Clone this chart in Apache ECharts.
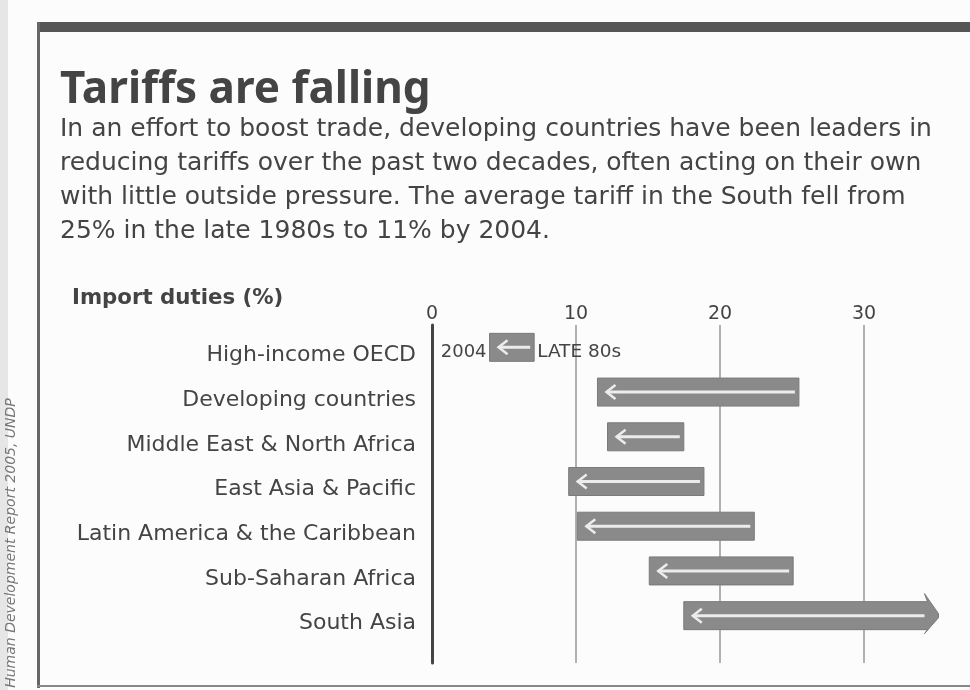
<!DOCTYPE html>
<html><head><meta charset="utf-8">
<script src="https://cdn.jsdelivr.net/npm/echarts@6/dist/echarts.min.js"></script>
<style>html,body{margin:0;padding:0;background:#fcfcfc}#c{width:970px;height:690px}</style>
</head><body><div id="c"></div>
<script>
const categories = ['High-income OECD','Developing countries','Middle East & North Africa','East Asia & Pacific','Latin America & the Caribbean','Sub-Saharan Africa','South Asia'];
const tariff2004 = [4.0, 11.5, 12.2, 9.5, 10.1, 15.1, 17.5];
const tariffLate80s = [7.1, 25.5, 17.5, 18.9, 22.4, 25.1, 35.2];
const offScale = [0, 0, 0, 0, 0, 0, 1];
const xTicks = [0, 10, 20, 30];
const startLabel = '2004';
const endLabel = 'LATE 80s';
const titleText = 'Tariffs are falling';
const subtitleLines = [
  'In an effort to boost trade, developing countries have been leaders in',
  'reducing tariffs over the past two decades, often acting on their own',
  'with little outside pressure. The average tariff in the South fell from',
  '25% in the late 1980s to 11% by 2004.'
];
const axisTitle = 'Import duties (%)';
const sourceText = 'Human Development Report 2005, UNDP';

const FONT = '"DejaVu Sans", "Noto Sans", sans-serif';
const data = categories.map((c, i) => [i, tariff2004[i], tariffLate80s[i], offScale[i]]);

const chart = echarts.init(document.getElementById('c'), null, {renderer: 'canvas'});

const graphics = [
  {type: 'rect', shape: {x: 0, y: 0, width: 8, height: 690}, style: {fill: '#e6e6e6'}, silent: true},
  {type: 'rect', shape: {x: 37, y: 22, width: 933, height: 10}, style: {fill: '#555'}, silent: true},
  {type: 'rect', shape: {x: 37, y: 22, width: 3, height: 666}, style: {fill: '#666'}, silent: true},
  {type: 'rect', shape: {x: 37, y: 685, width: 933, height: 2}, style: {fill: '#888'}, silent: true},
  {type: 'text', left: 60, top: 68, style: {text: titleText, font: 'bold 44px "Noto Sans", sans-serif', fill: '#444'}},
  {type: 'text', x: 72, y: 298, style: {text: axisTitle, font: 'bold 21.3px ' + FONT, fill: '#444', verticalAlign: 'middle'}},
  {type: 'text', x: 11, y: 543, rotation: Math.PI / 2, style: {text: sourceText, font: 'italic 14px ' + FONT, fill: '#777', align: 'center', verticalAlign: 'middle'}}
];
subtitleLines.forEach((t, k) => {
  graphics.push({type: 'text', x: 60, y: 129 + k * 34.3, style: {text: t, font: '25px ' + FONT, fill: '#444', verticalAlign: 'middle'}});
});

chart.setOption({
  backgroundColor: '#fcfcfc',
  animation: false,
  graphic: graphics,
  grid: [
    {left: 432, right: 20, top: 325, height: 313},
    {left: 432, right: 106, top: 325, bottom: 27}
  ],
  xAxis: [
    {gridIndex: 0, type: 'value', min: 0, max: 36, show: false, splitLine: {show: false}},
    {gridIndex: 1, type: 'value', min: 0, max: 30, interval: 10, position: 'top',
      axisLine: {show: false}, axisTick: {show: false},
      axisLabel: {margin: 1, fontSize: 19, color: '#444', fontFamily: FONT,
        formatter: v => xTicks.indexOf(v) >= 0 ? String(v) : ''},
      splitLine: {show: true, lineStyle: {color: '#999', width: 1.5}}}
  ],
  yAxis: [
    {gridIndex: 0, type: 'category', data: categories, inverse: true,
      axisLine: {show: false}, axisTick: {show: false}, splitLine: {show: false},
      axisLabel: {margin: 16, fontSize: 22, color: '#444', fontFamily: FONT, verticalAlign: 'top', lineHeight: 16}},
    {gridIndex: 1, type: 'value', min: 0, max: 1, axisLabel: {show: false}, axisTick: {show: false},
      splitLine: {show: false}, axisLine: {show: true, lineStyle: {color: '#444', width: 3}}}
  ],
  series: [{
    type: 'custom',
    xAxisIndex: 0, yAxisIndex: 0,
    data: data,
    encode: {x: [1, 2], y: 0},
    renderItem: function (params, api) {
      const i = api.value(0);
      const lo = api.value(1), hi = api.value(2), broken = api.value(3);
      const pL = api.coord([lo, i]);
      const pR = api.coord([hi, i]);
      const h = 28, cy = pL[1];
      const x0 = pL[0], x1 = pR[0];
      const top = cy - h / 2, bot = cy + h / 2;
      const children = [];
      if (broken) {
        const xb = x1 - 11;
        children.push({type: 'polygon', shape: {points: [[x0, top], [xb, top], [xb - 3, top - 8], [x1, cy - 2], [x1, cy + 2], [xb - 3, bot + 4], [xb, bot], [x0, bot]]},
          style: {fill: '#8a8a8a', stroke: '#7a7a7a', lineWidth: 1}});
      } else {
        children.push({type: 'rect', shape: {x: x0, y: top, width: x1 - x0, height: h},
          style: {fill: '#8a8a8a', stroke: '#7a7a7a', lineWidth: 1}});
      }
      const tipX = x0 + 9;
      const endX = broken ? x1 - 14 : x1 - 4;
      children.push({type: 'polyline', shape: {points: [[endX, cy], [tipX, cy]]}, style: {stroke: '#ececec', lineWidth: 3, fill: null}});
      children.push({type: 'polyline', shape: {points: [[tipX + 9, cy - 7], [tipX, cy], [tipX + 9, cy + 7]]}, style: {stroke: '#ececec', lineWidth: 2.5, fill: null}});
      if (i === 0) {
        children.push({type: 'text', style: {text: startLabel, x: x0 - 3, y: cy + 5, align: 'right', verticalAlign: 'middle', font: '18px ' + FONT, fill: '#444'}});
        children.push({type: 'text', style: {text: endLabel, x: x1 + 3, y: cy + 5, align: 'left', verticalAlign: 'middle', font: '18.5px ' + FONT, fill: '#444'}});
      }
      return {type: 'group', children: children};
    }
  }]
});
</script>
</body></html>
